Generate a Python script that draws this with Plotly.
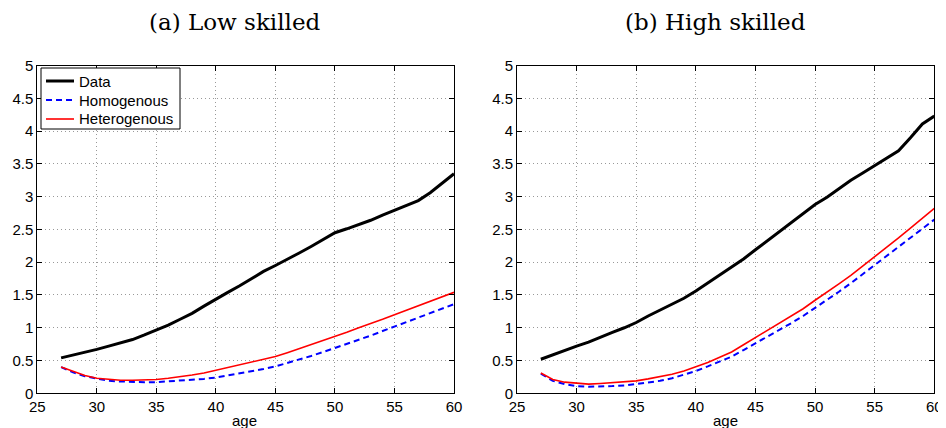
import plotly.graph_objects as go

ages = list(range(27, 61))

low_data = [0.54, 0.58, 0.62, 0.67, 0.72, 0.77, 0.82, 0.89, 0.96, 1.04,
            1.13, 1.22, 1.33, 1.44, 1.54, 1.64, 1.75, 1.86, 1.95, 2.04,
            2.14, 2.24, 2.35, 2.45, 2.51, 2.57, 2.64, 2.72, 2.79, 2.86,
            2.94, 3.06, 3.20, 3.35]
low_hom = [0.40, 0.32, 0.26, 0.22, 0.19, 0.18, 0.17, 0.17, 0.17, 0.18,
           0.19, 0.20, 0.22, 0.24, 0.27, 0.30, 0.33, 0.37, 0.41, 0.46,
           0.51, 0.57, 0.63, 0.69, 0.75, 0.82, 0.88, 0.95, 1.02, 1.09,
           1.16, 1.22, 1.29, 1.36]
low_het = [0.40, 0.33, 0.27, 0.23, 0.21, 0.20, 0.20, 0.20, 0.21, 0.23,
           0.25, 0.28, 0.31, 0.35, 0.39, 0.43, 0.47, 0.52, 0.56, 0.62,
           0.68, 0.74, 0.80, 0.86, 0.93, 1.00, 1.06, 1.13, 1.20, 1.27,
           1.33, 1.40, 1.47, 1.54]

high_data = [0.52, 0.59, 0.66, 0.72, 0.78, 0.86, 0.93, 1.00, 1.08, 1.18,
             1.27, 1.36, 1.45, 1.56, 1.68, 1.81, 1.93, 2.05, 2.19, 2.33,
             2.46, 2.60, 2.74, 2.88, 2.99, 3.12, 3.25, 3.36, 3.47, 3.58,
             3.70, 3.90, 4.11, 4.23]
high_hom = [0.30, 0.19, 0.14, 0.11, 0.10, 0.10, 0.11, 0.12, 0.14, 0.16,
            0.19, 0.23, 0.28, 0.34, 0.41, 0.48, 0.56, 0.66, 0.76, 0.86,
            0.96, 1.07, 1.18, 1.30, 1.42, 1.55, 1.68, 1.82, 1.96, 2.10,
            2.24, 2.38, 2.51, 2.65]
high_het = [0.31, 0.21, 0.17, 0.15, 0.14, 0.15, 0.16, 0.17, 0.19, 0.22,
            0.25, 0.29, 0.34, 0.40, 0.47, 0.55, 0.63, 0.74, 0.85, 0.95,
            1.06, 1.17, 1.29, 1.42, 1.54, 1.67, 1.80, 1.94, 2.08, 2.22,
            2.37, 2.52, 2.67, 2.82]

series_names = ["Data", "Homogenous", "Heterogenous"]
panel_titles = ["(a) Low skilled", "(b) High skilled"]
x_ticks = [25, 30, 35, 40, 45, 50, 55, 60]
y_ticks = [0, 0.5, 1, 1.5, 2, 2.5, 3, 3.5, 4, 4.5, 5]
y_labels = ["0", "0.5", "1", "1.5", "2", "2.5", "3", "3.5", "4", "4.5", "5"]

# page body has an 8px margin, so the figure is drawn 8px in
W, H, OFF = 938, 420, 8


def px(v):
    return (v - OFF) / W


def py(v):
    return 1 - (v - OFF) / H


styles = [dict(color="black", width=3),
          dict(color="#0000ff", width=2, dash="6px,4px"),
          dict(color="#ff0000", width=1.6)]

fig = go.Figure()

panels = [((low_data, low_hom, low_het), "x", "y"),
          ((high_data, high_hom, high_het), "x2", "y2")]
for series, xa, ya in panels:
    for name, vals, st in zip(series_names, series, styles):
        fig.add_trace(go.Scatter(x=ages, y=vals, name=name, mode="lines",
                                 line=st, xaxis=xa, yaxis=ya, showlegend=False))

ax_common = dict(showline=True, linecolor="black", linewidth=1, mirror="ticks",
                 ticks="inside", ticklen=5, tickcolor="black", automargin=False,
                 showgrid=True, gridcolor="#999999", griddash="1px,3px", gridwidth=1,
                 zeroline=False, tickfont=dict(family="Liberation Sans", size=15, color="black"))

y_dom = [py(393.3), py(65.6)]
fig.update_layout(
    width=W, height=H,
    margin=dict(l=0, r=0, t=0, b=0, autoexpand=False),
    paper_bgcolor="white", plot_bgcolor="white",
    xaxis=dict(domain=[px(37.3), px(454)], range=[25, 60], tickvals=x_ticks,
               anchor="y", **ax_common),
    yaxis=dict(domain=y_dom, range=[0, 5], tickvals=y_ticks, ticktext=y_labels,
               anchor="x", **ax_common),
    xaxis2=dict(domain=[px(517), px(934.3)], range=[25, 60], tickvals=x_ticks,
                anchor="y2", **ax_common),
    yaxis2=dict(domain=y_dom, range=[0, 5], tickvals=y_ticks, ticktext=y_labels,
                anchor="x2", **ax_common),
    showlegend=False,
)

# legend box drawn by hand, MATLAB style
fig.add_shape(type="rect", xref="paper", yref="paper",
              x0=px(41), x1=px(180), y0=py(129), y1=py(68),
              line=dict(color="black", width=1), fillcolor="white", layer="above")
for i, (name, st) in enumerate(zip(series_names, styles)):
    ly = 81 + 19 * i
    fig.add_shape(type="line", xref="paper", yref="paper",
                  x0=px(46), x1=px(74), y0=py(ly), y1=py(ly), line=st, layer="above")
    fig.add_annotation(x=px(77), y=py(ly), xref="paper", yref="paper",
                       text=name, showarrow=False, xanchor="left", yanchor="middle",
                       font=dict(family="Liberation Sans", size=15, color="black"))

for cx, t in zip([235, 715], panel_titles):
    fig.add_annotation(x=px(cx), y=py(22), xref="paper", yref="paper",
                       text=t, showarrow=False, xanchor="center", yanchor="middle",
                       font=dict(family="DejaVu Serif", size=23, color="black"))
for cx in [245, 725]:
    fig.add_annotation(x=px(cx), y=py(420), xref="paper", yref="paper",
                       text="age", showarrow=False, xanchor="center", yanchor="middle",
                       font=dict(family="Liberation Sans", size=15, color="black"))

fig.write_html("out.html")
